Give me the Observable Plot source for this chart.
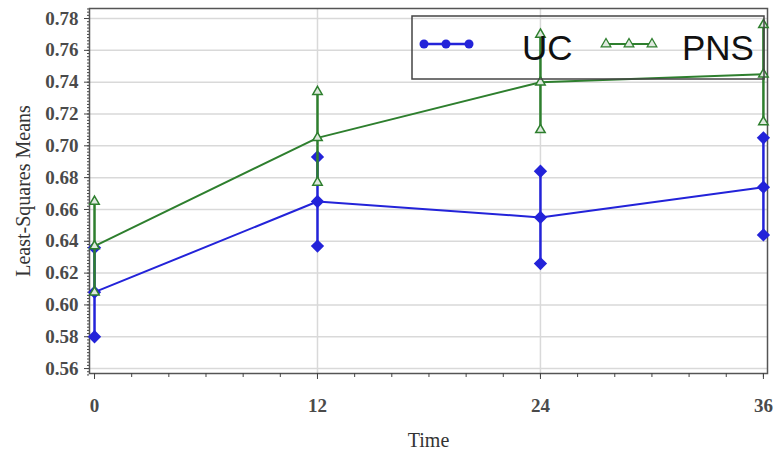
<!DOCTYPE html>
<html>
<head>
<meta charset="utf-8">
<script src="https://cdn.jsdelivr.net/npm/d3@7"></script>
<script src="https://cdn.jsdelivr.net/npm/@observablehq/plot@0.6"></script>
<style>
  html, body { margin: 0; padding: 0; background: #fff; }
  #wrap { position: relative; width: 773px; height: 462px; }
  #legend { position: absolute; left: 0; top: 0; pointer-events: none; }
</style>
</head>
<body>
<div id="wrap"></div>
<script>
// ---- data ----
const times = [0, 12, 24, 36];
const ucMean  = [0.608, 0.665, 0.655, 0.674];
const ucLower = [0.580, 0.637, 0.626, 0.644];
const ucUpper = [0.636, 0.693, 0.684, 0.705];
const pnsMean  = [0.637, 0.705, 0.740, 0.745];
const pnsLower = [0.608, 0.677, 0.710, 0.715];
const pnsUpper = [0.665, 0.734, 0.770, 0.776];
const yTicks = [0.56, 0.58, 0.60, 0.62, 0.64, 0.66, 0.68, 0.70, 0.72, 0.74, 0.76, 0.78];
const xTicks = [0, 12, 24, 36];
const seriesNames = ["UC", "PNS"];
const seriesColors = ["#2323d9", "#2e7f2e"];

// ---- tables built from the arrays ----
const uc = times.map((t, i) => ({time: t, mean: ucMean[i], lo: ucLower[i], hi: ucUpper[i]}));
const pns = times.map((t, i) => ({time: t, mean: pnsMean[i], lo: pnsLower[i], hi: pnsUpper[i]}));
const xMinor = d3.range(0, 37, 2);
const yMinor = d3.range(0, 116).map(i => 0.556 + i * 0.002).filter(v => v <= 0.786);

const blue = seriesColors[0], green = seriesColors[1];
const serif = "'Liberation Serif', 'DejaVu Serif', serif";

const chart = Plot.plot({
  width: 773,
  height: 462,
  marginLeft: 89,
  marginRight: 6,
  marginTop: 8,
  marginBottom: 89,
  style: {fontFamily: serif, fontSize: "17px", color: "#333", background: "#fff"},
  x: {domain: [-0.27, 36.22]},
  y: {domain: [0.5569, 0.7863]},
  marks: [
    Plot.gridY(yTicks, {stroke: "#d9d9d9", strokeOpacity: 1, strokeWidth: 1.5}),
    Plot.gridX([12, 24], {stroke: "#d9d9d9", strokeOpacity: 1, strokeWidth: 1.5}),
    Plot.frame({stroke: "#555", strokeWidth: 1.5}),
    // minor ticks
    Plot.axisY(yMinor, {tickSize: 2, tickFormat: () => "", stroke: "#444", label: null}),
    Plot.axisX(xMinor, {tickSize: 4, tickFormat: () => "", stroke: "#444", label: null}),
    // major ticks
    Plot.axisY(yTicks, {tickSize: 5, tickPadding: 6, tickFormat: d3.format(".2f"), stroke: "#444",
      fill: "#4a4a4a", fontWeight: "bold", fontSize: 19, label: "Least-Squares Means", labelAnchor: "center", labelArrow: "none", labelOffset: 74}),
    Plot.axisX(xTicks, {tickSize: 6, tickPadding: 19, stroke: "#444", fill: "#4a4a4a", fontWeight: "bold", fontSize: 19,
      label: "Time", labelAnchor: "center", labelArrow: "none", labelOffset: 73}),
    // UC
    Plot.ruleX(uc, {x: "time", y1: "lo", y2: "hi", stroke: blue, strokeWidth: 2.5}),
    Plot.line(uc, {x: "time", y: "mean", stroke: blue, strokeWidth: 2}),
    Plot.dot(uc, {x: "time", y: "lo", symbol: "diamond2", r: 6, fill: blue}),
    Plot.dot(uc, {x: "time", y: "hi", symbol: "diamond2", r: 6, fill: blue}),
    Plot.dot(uc, {x: "time", y: "mean", symbol: "diamond2", r: 6, fill: blue}),
    // PNS
    Plot.ruleX(pns, {x: "time", y1: "lo", y2: "hi", stroke: green, strokeWidth: 2.5}),
    Plot.line(pns, {x: "time", y: "mean", stroke: green, strokeWidth: 2}),
    Plot.dot(pns, {x: "time", y: "lo", symbol: "triangle", r: 3.5, stroke: green, strokeWidth: 1.5, fill: "#dfe9df"}),
    Plot.dot(pns, {x: "time", y: "hi", symbol: "triangle", r: 3.5, stroke: green, strokeWidth: 1.5, fill: "#dfe9df"}),
    Plot.dot(pns, {x: "time", y: "mean", symbol: "triangle", r: 3.5, stroke: green, strokeWidth: 1.5, fill: "#dfe9df"})
  ]
});
document.getElementById("wrap").appendChild(chart);

// style the axis titles
d3.select(chart).selectAll("[aria-label='y-axis label'] text, [aria-label='x-axis label'] text")
  .style("font-size", "20px").style("font-weight", "normal").attr("fill", "#333");

// ---- legend (overlay) ----
const leg = d3.select("#wrap").append("svg").attr("id", "legend").attr("width", 773).attr("height", 462);
leg.append("rect").attr("x", 412).attr("y", 16).attr("width", 352).attr("height", 63)
  .attr("fill", "none").attr("stroke", "#444").attr("stroke-width", 1.5);
// UC sample
leg.append("line").attr("x1", 424).attr("x2", 469).attr("y1", 44).attr("y2", 44).attr("stroke", blue).attr("stroke-width", 2.5);
[424, 446, 469].forEach(x => leg.append("circle").attr("cx", x).attr("cy", 44).attr("r", 4.5).attr("fill", blue));
leg.append("text").attr("x", 522).attr("y", 60).text(seriesNames[0])
  .attr("font-family", "'Liberation Sans', Arial, sans-serif").attr("font-size", 35).attr("fill", "#111");
// PNS sample
leg.append("line").attr("x1", 603).attr("x2", 655).attr("y1", 44).attr("y2", 44).attr("stroke", green).attr("stroke-width", 2);
[606, 629, 652].forEach(x => leg.append("path").attr("d", d3.symbol(d3.symbolTriangle, 40)())
  .attr("transform", `translate(${x},44)`).attr("fill", "#dfe9df").attr("stroke", green).attr("stroke-width", 1.3));
leg.append("text").attr("x", 682).attr("y", 60).text(seriesNames[1])
  .attr("font-family", "'Liberation Sans', Arial, sans-serif").attr("font-size", 35).attr("fill", "#111");
</script>
</body>
</html>
